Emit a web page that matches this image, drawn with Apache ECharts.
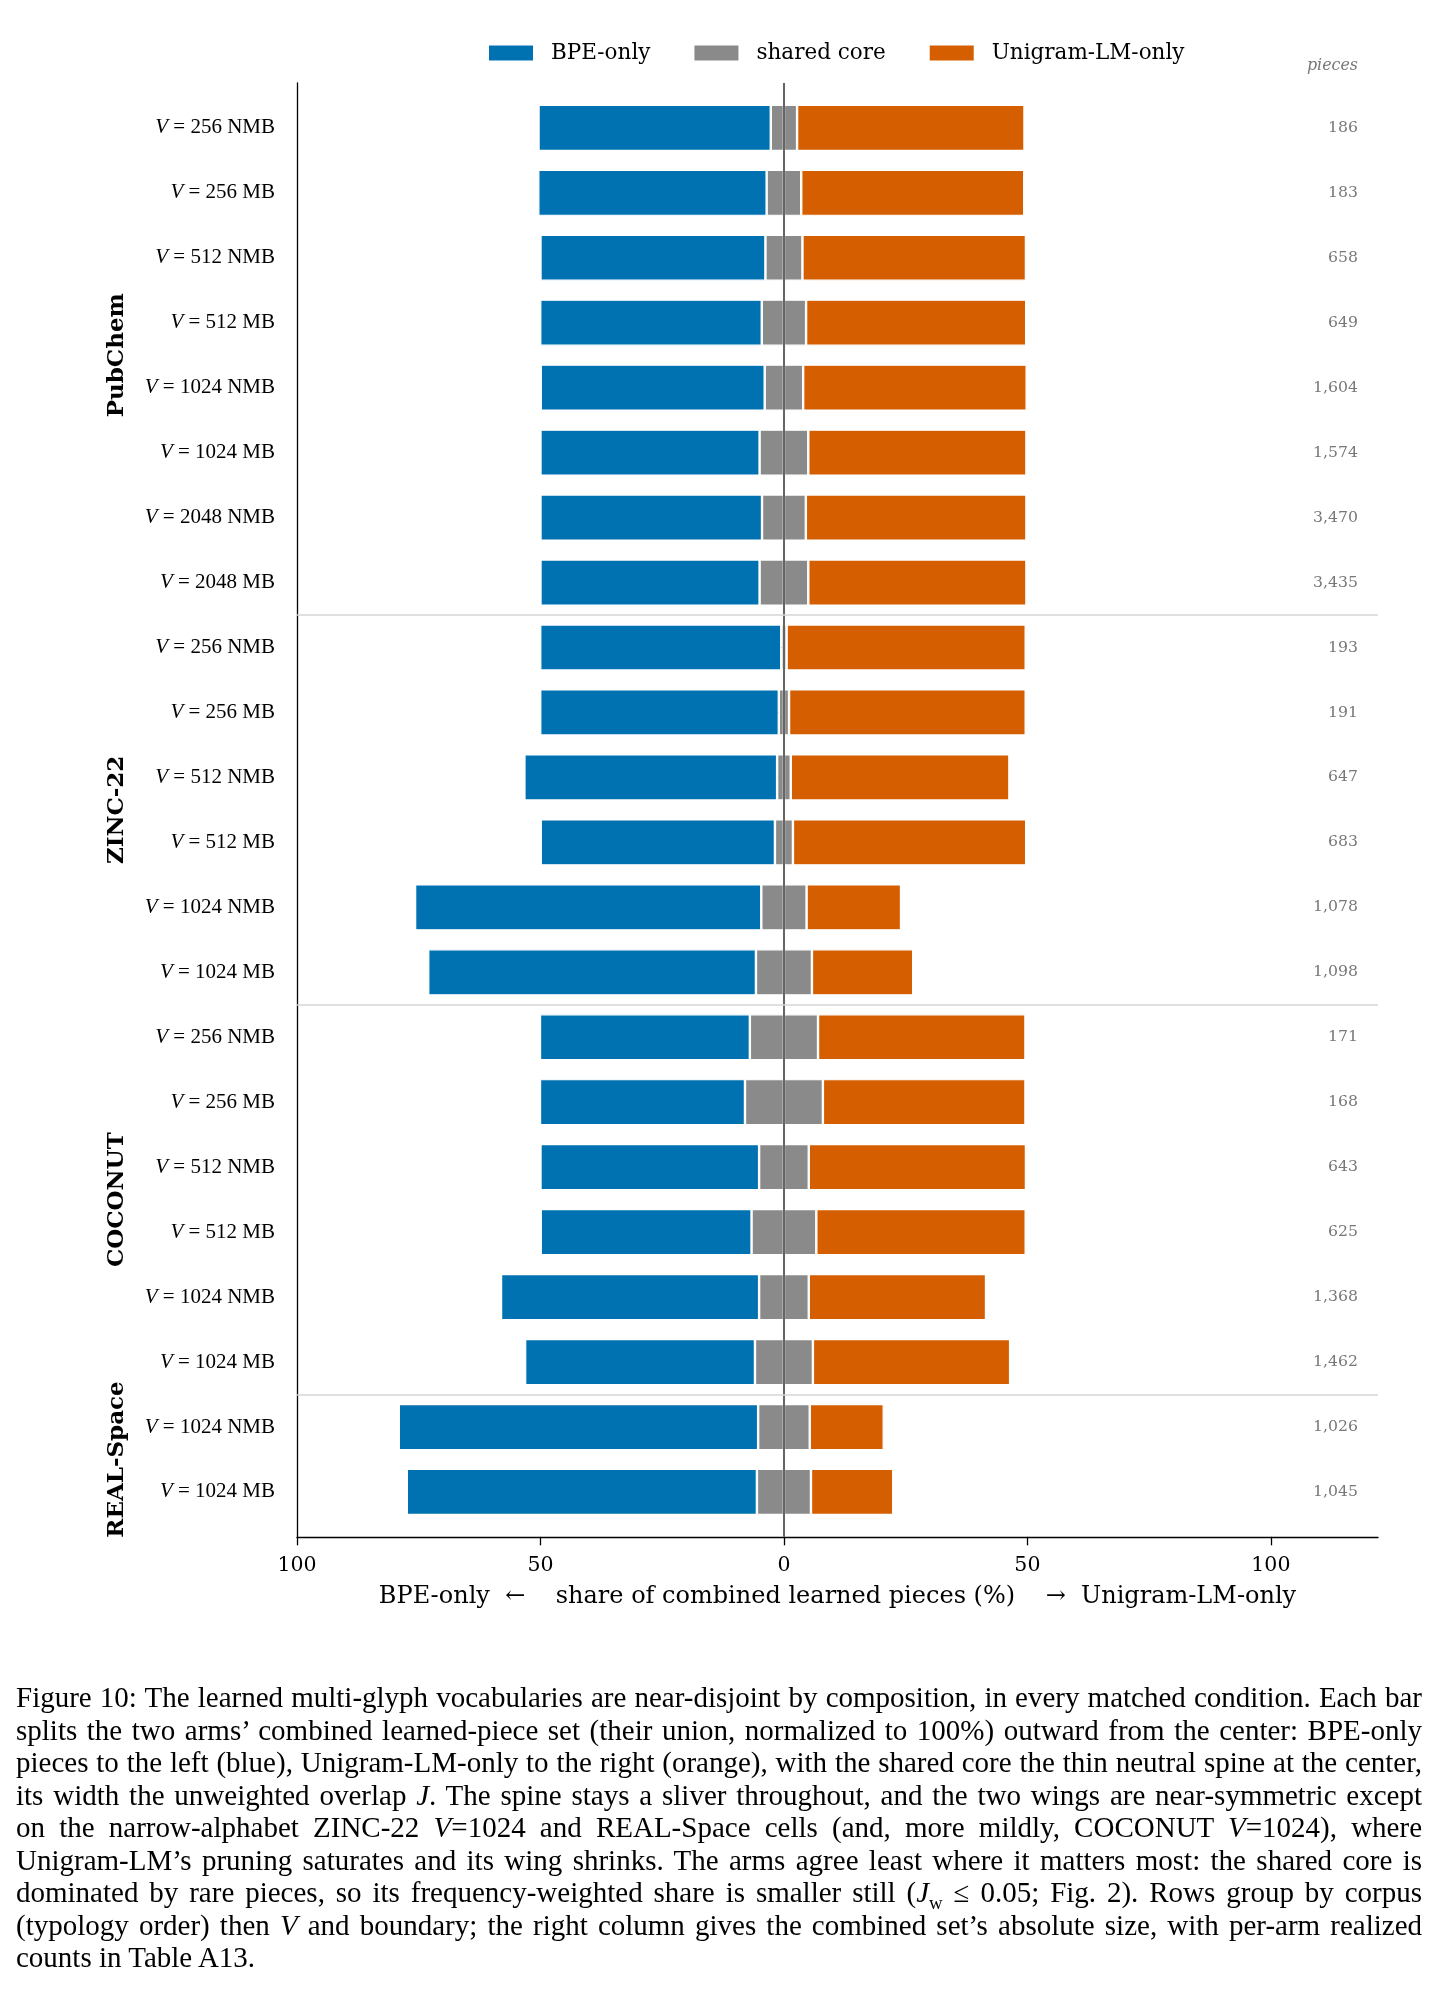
<!DOCTYPE html>
<html>
<head>
<meta charset="utf-8">
<title>Figure 10</title>
<script src="https://cdn.jsdelivr.net/npm/echarts@6/dist/echarts.min.js"></script>
<style>
  html, body { margin: 0; padding: 0; background: #fff; }
  #page { position: relative; width: 1439px; height: 1992px; }
  #myChart { position: absolute; left: 0; top: 0; width: 1439px; height: 1992px; }
  #caption {
    position: absolute; left: 16px; top: 1681px; width: 1406px;
    font-family: 'Liberation Serif', 'Times New Roman', serif;
    font-size: 29px; line-height: 32.5px; color: #000;
  }
  #caption div { white-space: nowrap; text-align: justify; text-align-last: justify; }
  #caption div.last { text-align-last: left; }
  #caption sub { font-size: 65%; line-height: 0; }
</style>
</head>
<body>
<div id="page">
  <div id="myChart"></div>
  <div id="caption">
    <div>Figure 10: The learned multi-glyph vocabularies are near-disjoint by composition, in every matched condition. Each bar</div>
    <div>splits the two arms’ combined learned-piece set (their union, normalized to 100%) outward from the center: BPE-only</div>
    <div>pieces to the left (blue), Unigram-LM-only to the right (orange), with the shared core the thin neutral spine at the center,</div>
    <div>its width the unweighted overlap <i>J</i>. The spine stays a sliver throughout, and the two wings are near-symmetric except</div>
    <div>on the narrow-alphabet ZINC-22 <i>V</i>=1024 and REAL-Space cells (and, more mildly, COCONUT <i>V</i>=1024), where</div>
    <div>Unigram-LM’s pruning saturates and its wing shrinks. The arms agree least where it matters most: the shared core is</div>
    <div>dominated by rare pieces, so its frequency-weighted share is smaller still (<i>J</i><sub>w</sub> ≤ 0.05; Fig. 2). Rows group by corpus</div>
    <div>(typology order) then <i>V</i> and boundary; the right column gives the combined set’s absolute size, with per-arm realized</div>
    <div class="last">counts in Table A13.</div>
  </div>
</div>

<script>
// corpora in typology order and how many rows each one has
const corpora = ['PubChem', 'ZINC-22', 'COCONUT', 'REAL-Space']
const corpusRows = [8, 6, 6, 2]

// one entry per row, top to bottom
const vocab = [256, 256, 512, 512, 1024, 1024, 2048, 2048,
  256, 256, 512, 512, 1024, 1024,
  256, 256, 512, 512, 1024, 1024,
  1024, 1024]
const boundary = ['NMB', 'MB', 'NMB', 'MB', 'NMB', 'MB', 'NMB', 'MB',
  'NMB', 'MB', 'NMB', 'MB', 'NMB', 'MB',
  'NMB', 'MB', 'NMB', 'MB', 'NMB', 'MB',
  'NMB', 'MB']

// share of combined learned pieces (%)
const bpeOnly = [47.7, 46.9, 46.2, 45.5, 46.0, 45.0, 45.5, 45.0,
  49.5, 49.0, 51.9, 48.1, 71.1, 67.3,
  43.1, 42.1, 44.9, 43.3, 53.0, 47.2,
  73.8, 71.9]
const shared = [5.4, 7.1, 7.6, 9.1, 7.9, 10.0, 9.0, 10.0,
  1.1, 2.1, 2.8, 3.7, 9.3, 11.5,
  14.0, 16.0, 10.2, 13.3, 10.2, 11.9,
  10.6, 11.1]
const uniOnly = [46.7, 45.8, 45.9, 45.2, 45.9, 44.8, 45.3, 44.8,
  49.1, 48.6, 44.9, 47.9, 19.4, 20.8,
  42.6, 41.6, 44.6, 43.0, 36.4, 40.5,
  15.2, 16.9]

// combined set size (right column)
const pieces = [186, 183, 658, 649, 1604, 1574, 3470, 3435,
  193, 191, 647, 683, 1078, 1098,
  171, 168, 643, 625, 1368, 1462,
  1026, 1045]

const xTicks = [-100, -50, 0, 50, 100]

// layout
const band = 64.96
const rowMin = -0.69
const rowMax = 21.69
const gridLeft = 297
const gridRight = 61
const gridTop = 83
const xMin = -100
const xMax = 122

const blue = '#0072B2'
const gray = '#8a8a8a'
const orange = '#D55E00'

// corpus of each row and group separators
let rowCorpus = []
let separators = []
let groupLabels = []
let start = 0
corpora.forEach((c, i) => {
  for (let k = 0; k < corpusRows[i]; k++) rowCorpus.push(c)
  let mid = start + (corpusRows[i] - 1) / 2
  groupLabels.push({
    type: 'text',
    x: 117.5,
    y: gridTop + (mid - rowMin) * band,
    rotation: Math.PI / 2,
    silent: true,
    style: {
      text: c,
      align: 'center',
      verticalAlign: 'middle',
      fontFamily: 'DejaVu Serif',
      fontWeight: 'bold',
      fontSize: 23,
      fill: '#000'
    }
  })
  start += corpusRows[i]
  if (i < corpora.length - 1) separators.push(start - 0.5)
})
const categories = vocab.map((v, i) => rowCorpus[i] + '|' + v + ' ' + boundary[i])

const barStyle = (color) => ({ color: color, borderColor: '#fff', borderWidth: 1.2 })
const barBase = {
  type: 'bar',
  stack: 'wings',
  xAxisIndex: 1,
  yAxisIndex: 1,
  barWidth: '71%',
  silent: true
}

let myChart = echarts.init(document.getElementById('myChart'))
myChart.setOption({
  animation: false,
  backgroundColor: '#fff',
  legend: {
    data: ['BPE-only', 'shared core', 'Unigram-LM-only'],
    left: 487,
    top: 42,
    padding: 0,
    icon: 'rect',
    itemWidth: 46,
    itemHeight: 17,
    itemGap: 42,
    selectedMode: false,
    textStyle: {
      fontFamily: 'DejaVu Serif',
      fontSize: 21.5,
      color: '#000',
      padding: [0, 0, 0, 12]
    }
  },
  grid: [
    { left: gridLeft, right: gridRight, top: gridTop, height: (rowMax - rowMin) * band, outerBoundsMode: 'none' },
    { left: gridLeft, right: gridRight, top: gridTop + (-0.5 - rowMin) * band, height: 22 * band, outerBoundsMode: 'none' }
  ],
  xAxis: [
    {
      type: 'value',
      gridIndex: 0,
      min: xMin,
      max: xMax,
      splitLine: { show: false },
      axisLine: { show: true, onZero: false, lineStyle: { color: '#000', width: 1.3 } },
      axisTick: { show: true, customValues: xTicks, length: 8.5, lineStyle: { color: '#000', width: 1.3 } },
      axisLabel: {
        customValues: xTicks,
        margin: 18,
        fontFamily: 'DejaVu Serif',
        fontSize: 20.5,
        color: '#000',
        formatter: v => String(Math.abs(v))
      },
      name: 'BPE-only  \u2190    share of combined learned pieces (%)    \u2192  Unigram-LM-only',
      nameLocation: 'middle',
      nameGap: 48,
      nameTextStyle: { fontFamily: 'DejaVu Serif', fontSize: 24, color: '#000' }
    },
    { type: 'value', gridIndex: 1, min: xMin, max: xMax, show: false }
  ],
  yAxis: [
    // spine only
    {
      type: 'value',
      gridIndex: 0,
      min: rowMin,
      max: rowMax,
      inverse: true,
      splitLine: { show: false },
      axisTick: { show: false },
      axisLabel: { show: false },
      axisLine: { show: true, onZero: false, lineStyle: { color: '#000', width: 1.3 } }
    },
    {
      type: 'category',
      gridIndex: 1,
      data: categories,
      inverse: true,
      axisLine: { show: false },
      axisTick: { show: true, alignWithLabel: true, length: 9, lineStyle: { color: '#000', width: 1.3 } },
      axisLabel: {
        interval: 0,
        margin: 22,
        color: '#000',
        formatter: (value, index) => '{v|V}{t| = ' + vocab[index] + ' ' + boundary[index] + '}',
        rich: {
          v: { fontFamily: 'Liberation Serif', fontStyle: 'italic', fontSize: 21, color: '#000' },
          t: { fontFamily: 'Liberation Serif', fontSize: 21, color: '#000' }
        }
      }
    },
    // right column: combined set size
    {
      type: 'category',
      gridIndex: 1,
      position: 'right',
      data: categories,
      inverse: true,
      axisLine: { show: false },
      axisTick: { show: false },
      axisLabel: {
        inside: true,
        interval: 0,
        margin: 20,
        fontFamily: 'DejaVu Serif',
        fontSize: 15.7,
        color: '#777',
        formatter: (value, index) => pieces[index].toLocaleString('en-US')
      }
    }
  ],
  graphic: [
    {
      type: 'text',
      x: 1358,
      y: 66,
      silent: true,
      style: {
        text: 'pieces',
        align: 'right',
        verticalAlign: 'middle',
        fontFamily: 'DejaVu Serif',
        fontStyle: 'italic',
        fontSize: 15.9,
        fill: '#777'
      }
    }
  ].concat(groupLabels),
  series: [
    // shared core split in two halves around 0 so the wings stack outward
    Object.assign({}, barBase, { name: 'shared core', data: shared.map(v => -v / 2), itemStyle: barStyle(gray) }),
    Object.assign({}, barBase, { name: 'shared core', data: shared.map(v => v / 2), itemStyle: barStyle(gray) }),
    Object.assign({}, barBase, { name: 'BPE-only', data: bpeOnly.map(v => -v), itemStyle: barStyle(blue) }),
    Object.assign({}, barBase, { name: 'Unigram-LM-only', data: uniOnly, itemStyle: barStyle(orange) }),
    // center spine and corpus separators
    {
      type: 'line',
      xAxisIndex: 0,
      yAxisIndex: 0,
      data: [],
      silent: true,
      z: 10,
      markLine: {
        symbol: 'none',
        silent: true,
        animation: false,
        label: { show: false },
        data: [{ xAxis: 0, lineStyle: { color: '#4a4a4a', width: 1.7, type: 'solid' } }].concat(
          separators.map(r => ({ yAxis: r, lineStyle: { color: '#d6d6d6', width: 1.5, type: 'solid' } }))
        )
      }
    }
  ]
})
</script>
</body>
</html>
